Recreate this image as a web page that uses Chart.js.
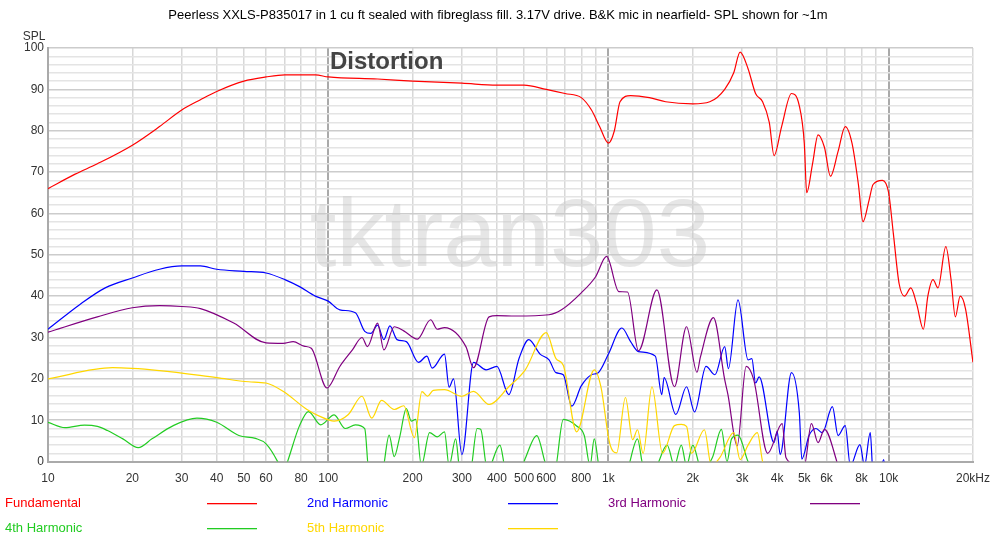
<!DOCTYPE html>
<html>
<head>
<meta charset="utf-8">
<script src="https://cdn.jsdelivr.net/npm/chart.js@4/dist/chart.umd.min.js"></script>
<style>
  html, body { margin: 0; padding: 0; background: #fff; }
  #wrap { position: relative; width: 1000px; height: 548px; }
</style>
</head>
<body>
<div id="wrap"><canvas id="c" width="1000" height="548"></canvas></div>
<script>
// [frequency Hz, dB]; values below 0 fall off the plot
const fundamental = [[10,66],[12.5,69.5],[15,72],[20,76.5],[25,81],[30,85],[35,87.5],[40,89.5],[50,92],[60,93],[70,93.5],[90,93.5],[100,93],[150,92.5],[200,92],[300,91.5],[400,91],[500,91],[600,90],[700,89],[800,88],[870,85],[930,81],[1000,77],[1050,80],[1100,87],[1200,88.5],[1400,88],[1600,87],[2000,86.5],[2300,87],[2600,90],[2800,94],[2950,99],[3150,95],[3350,89],[3550,87],[3750,82],[3900,74],[4150,81],[4500,89],[4800,86],[5000,77],[5100,65],[5350,72],[5600,79],[5900,76],[6200,69],[6600,75],[7000,81],[7400,77],[7800,67],[8100,58],[8500,63],[8800,67],[9500,68],[10000,65],[10400,55],[10900,43],[11400,40],[12000,42],[12600,38],[13300,32],[13800,40],[14400,44],[15000,42],[16000,52],[16700,44],[17300,35],[18000,40],[18800,37],[20000,24]]
const harm2 = [[10,32],[13,38],[16,42],[20,44.4],[25,46.5],[30,47.3],[35,47.3],[40,46.5],[50,46],[60,45.6],[70,44],[79,42.3],[90,40],[100,38.8],[110,36.7],[125,36],[135,31.5],[142,31],[150,33],[158,29.5],[166,32.8],[176,29.5],[190,29],[210,24],[225,25.5],[235,22.6],[260,26],[270,18],[280,20],[300,1.7],[330,24],[366,22.2],[400,23],[441,16.2],[480,25],[520,29.5],[570,26],[614,24.6],[650,21.5],[690,21],[740,13.4],[800,18.3],[870,21],[920,21.5],[1000,26],[1117,32.3],[1200,29],[1280,26.6],[1470,25.5],[1550,16.2],[1580,20.3],[1740,11.4],[1900,18.1],[2030,12],[2230,23],[2400,21],[2600,27.8],[2680,22.5],[2900,39.1],[3150,24.6],[3250,24.9],[3350,19],[3450,20.5],[3900,4.6],[4000,7.3],[4100,1.7],[4500,21.5],[4800,11.8],[4900,0.6],[5200,6.3],[5500,8],[5800,7],[6300,13.3],[6600,6.3],[7000,8.7],[7300,-1],[7900,4.1],[8200,-1],[8600,7],[8800,-3],[9300,-3],[9600,0.5],[9800,-5]]
const harm3 = [[10,31.3],[15,35],[20,37.2],[25,37.7],[30,37.5],[35,37],[46,33.5],[60,28.7],[69,28.6],[75,29],[82,27.9],[87,27.4],[99,17.8],[110,23],[122,27],[132,30],[138,27.8],[150,33.5],[158,27],[172,32.6],[186,31.6],[208,29.6],[232,34.3],[245,32],[260,32.4],[310,27.8],[330,22.7],[375,35],[400,35.3],[466,35.2],[614,35.5],[680,36.7],[800,40.8],[900,44.7],[985,49.6],[1090,41.1],[1170,41],[1280,26.8],[1490,41.5],[1720,18.1],[1900,32.6],[2070,21.6],[2130,25.3],[2370,34.8],[2600,19.8],[2670,16.2],[2880,3.8],[3100,23],[3300,19.8],[3700,2],[4170,9.2],[4300,1],[4600,-0.5],[5000,-1],[5300,9.2],[5600,4.6],[5900,7.8],[6500,0.5],[6800,-5]]
const harm4 = [[10,9.5],[11.5,8.2],[13.5,8.8],[15,8.5],[16.3,7.5],[18.5,5.5],[21,3.4],[23.5,5.5],[28,8.7],[34,10.5],[40,9.5],[48,6.3],[55,5.6],[60,4.3],[66,0],[69,-3],[71.6,0],[79,8.7],[85,12.1],[94,8.9],[105,11.3],[115,8],[125,8.9],[135,8],[140,-3],[155,-3],[165,6.4],[172,1.2],[180,6],[190,12.8],[198,9.8],[205,10.2],[215,-1],[230,7],[245,6],[260,7.2],[270,-1],[285,5.5],[295,-2],[320,-3],[340,8],[350,7.8],[370,-2],[410,4],[430,-2],[480,-3],[505,0.8],[555,6.3],[600,-1],[640,-3],[690,10.2],[770,8.6],[820,6.3],[860,-1],[890,5.5],[930,-2],[1000,-4],[1150,-3],[1270,5.5],[1330,-1],[1450,-2],[1620,4],[1720,-1],[1820,4],[1900,-1],[2000,4],[2150,-2],[2350,1],[2530,7.8],[2650,0],[2750,5.5],[2900,6.4],[3150,0],[3400,-4]]
const harm5 = [[10,20],[17,22.7],[25,22],[40,20.3],[52,19.3],[60,19],[69,17],[84,12.6],[93,11],[105,9.8],[118,11.4],[132,15.8],[143,10.5],[155,14.8],[172,12.6],[186,13.5],[203,5.8],[216,16.9],[226,15.8],[237,17.2],[260,17.4],[300,15.8],[330,17],[375,13.8],[441,18.1],[505,22.2],[600,31.2],[650,24.9],[690,23.3],[770,7.2],[890,22.2],[940,18.1],[1010,4.5],[1070,2.1],[1150,15.5],[1220,5.3],[1270,7.7],[1330,2],[1430,18.1],[1560,2],[1720,8.7],[1820,9],[1900,8.5],[1980,2],[2200,7.7],[2330,-1],[2500,1],[2800,7],[2950,0.5],[3150,4],[3400,7],[3550,0],[3800,-4]]
const xTickLabels = {10:'10',20:'20',30:'30',40:'40',50:'50',60:'60',80:'80',100:'100',200:'200',300:'300',400:'400',500:'500',600:'600',800:'800',1000:'1k',2000:'2k',3000:'3k',4000:'4k',5000:'5k',6000:'6k',8000:'8k',10000:'10k',20000:'20kHz'}

const seriesNames = ['Fundamental','2nd Harmonic','3rd Harmonic','4th Harmonic','5th Harmonic']
const seriesColors = ['#ff0000','#0000ff','#800080','#22cc22','#ffd700']
const seriesData = [fundamental, harm2, harm3, harm4, harm5]

const toPts = (arr) => arr.map(p => ({ x: p[0], y: p[1] }))

// watermark, heading, legend and the SPL label drawn straight on the canvas
const decorations = {
	id: 'decorations',
	beforeDatasetsDraw(chart) {
		const ctx = chart.ctx
		ctx.save()
		ctx.fillStyle = 'rgba(200,200,200,0.45)'
		ctx.font = '96px "Liberation Sans", Arial, sans-serif'
		ctx.textAlign = 'center'
		ctx.textBaseline = 'middle'
		ctx.fillText('tktran303', 510, 240)
		ctx.restore()
	},
	afterDraw(chart) {
		const ctx = chart.ctx
		ctx.save()
		ctx.fillStyle = '#444'
		ctx.font = 'bold 24px "Liberation Sans", Arial, sans-serif'
		ctx.textBaseline = 'middle'
		ctx.fillText('Distortion', 330, 62)
		ctx.fillStyle = '#000'
		ctx.font = '13px "Liberation Sans", Arial, sans-serif'
		ctx.textAlign = 'center'
		ctx.fillText('Peerless XXLS-P835017 in 1 cu ft sealed with fibreglass fill. 3.17V drive. B&K mic in nearfield- SPL shown for ~1m', 498, 15)
		ctx.font = '12px "Liberation Sans", Arial, sans-serif'
		ctx.fillStyle = '#333'
		ctx.fillText('SPL', 34, 37)
		ctx.textAlign = 'left'
		const pos = [[5,207,503],[307,508,503],[608,810,503],[5,207,528],[307,508,528]]
		seriesNames.forEach((name, i) => {
			const [tx, lx, y] = pos[i]
			ctx.fillStyle = seriesColors[i]
			ctx.font = '13px "Liberation Sans", Arial, sans-serif'
			ctx.fillText(name, tx, y)
			ctx.fillRect(lx, y, 50, 1.3)
		})
		ctx.restore()
	},
}

const allXTicks = []
for (let d = 10; d <= 10000; d *= 10) {
	for (let m = 1; m <= 9; m++) {
		if (m * d < 20000) allXTicks.push(m * d)
	}
}
allXTicks.push(20000)

new Chart(document.getElementById('c'), {
	type: 'line',
	data: {
		datasets: seriesData.map((d, i) => ({
			label: seriesNames[i],
			data: toPts(d),
			borderColor: seriesColors[i],
			borderWidth: 1.2,
			pointRadius: 0,
			cubicInterpolationMode: 'monotone',
			fill: false,
		})).reverse(),
	},
	options: {
		responsive: false,
		animation: false,
		events: [],
		layout: { padding: { left: 0, right: 23, top: 48, bottom: 52 } },
		plugins: { legend: { display: false }, title: { display: false }, tooltip: { enabled: false } },
		scales: {
			x: {
				type: 'logarithmic',
				min: 10,
				max: 20000,
				afterBuildTicks: (axis) => { axis.ticks = allXTicks.map(v => ({ value: v })) },
				ticks: {
					autoSkip: false,
					maxRotation: 0,
					padding: 10,
					color: '#333',
					font: { size: 12, family: '"Liberation Sans", Arial, sans-serif' },
					callback: (v) => xTickLabels[v] || '',
				},
				grid: {
					color: (c) => [10, 100, 1000, 10000].includes(c.tick.value) ? '#aaaaaa' : '#d8d8d8',
					lineWidth: (c) => [10, 100, 1000, 10000].includes(c.tick.value) ? 2 : 1.5,
					drawTicks: false,
				},
				border: { color: '#aaaaaa', width: 2 },
			},
			y: {
				min: 0,
				max: 100,
				afterFit: (axis) => { axis.width = 48 },
				ticks: {
					stepSize: 2,
					autoSkip: false,
					color: '#333',
					padding: 4,
					font: { size: 12, family: '"Liberation Sans", Arial, sans-serif' },
					callback: (v) => v % 10 === 0 ? String(v) : '',
				},
				grid: {
					color: (c) => c.tick.value % 10 === 0 ? '#cccccc' : '#e4e4e4',
					lineWidth: 1.5,
					drawTicks: false,
				},
				border: { color: '#aaaaaa', width: 2 },
			},
		},
	},
	plugins: [decorations],
})
</script>
</body>
</html>
